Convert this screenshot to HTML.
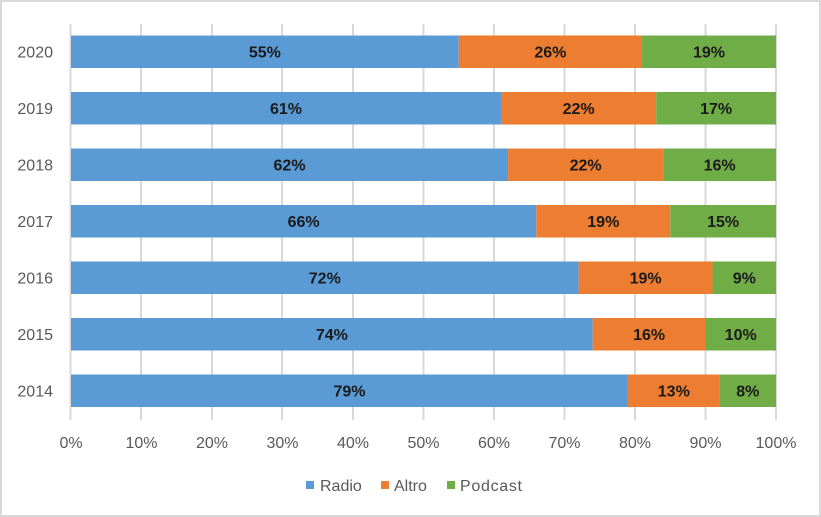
<!DOCTYPE html>
<html><head><meta charset="utf-8"><style>
html,body{margin:0;padding:0;background:#fff}
svg{display:block;font-family:"Liberation Sans",sans-serif}
</style></head><body>
<svg width="821" height="517" viewBox="0 0 821 517">
<rect x="1" y="1" width="819" height="515" fill="#fff" stroke="#d9d9d9" stroke-width="2"/>
<g stroke="#d9d9d9" stroke-width="2">
<line x1="70.5" y1="24" x2="70.5" y2="420"/><line x1="141" y1="24" x2="141" y2="420"/><line x1="212" y1="24" x2="212" y2="420"/><line x1="282" y1="24" x2="282" y2="420"/><line x1="353" y1="24" x2="353" y2="420"/><line x1="423.5" y1="24" x2="423.5" y2="420"/><line x1="494" y1="24" x2="494" y2="420"/><line x1="564.5" y1="24" x2="564.5" y2="420"/><line x1="635" y1="24" x2="635" y2="420"/><line x1="705.5" y1="24" x2="705.5" y2="420"/><line x1="776" y1="24" x2="776" y2="420"/>
</g>
<g>
<rect x="71" y="35.5" width="387.75" height="32.5" fill="#5b9bd5"/><rect x="458.75" y="35.5" width="183.3" height="32.5" fill="#ed7d31"/><rect x="642.05" y="35.5" width="133.95" height="32.5" fill="#70ad47"/>
<rect x="71" y="92" width="430.05" height="32.5" fill="#5b9bd5"/><rect x="501.05" y="92" width="155.1" height="32.5" fill="#ed7d31"/><rect x="656.15" y="92" width="119.85" height="32.5" fill="#70ad47"/>
<rect x="71" y="148.5" width="437.1" height="32.5" fill="#5b9bd5"/><rect x="508.1" y="148.5" width="155.1" height="32.5" fill="#ed7d31"/><rect x="663.2" y="148.5" width="112.8" height="32.5" fill="#70ad47"/>
<rect x="71" y="205" width="465.3" height="32.5" fill="#5b9bd5"/><rect x="536.3" y="205" width="133.95" height="32.5" fill="#ed7d31"/><rect x="670.25" y="205" width="105.75" height="32.5" fill="#70ad47"/>
<rect x="71" y="261.5" width="507.6" height="32.5" fill="#5b9bd5"/><rect x="578.6" y="261.5" width="133.95" height="32.5" fill="#ed7d31"/><rect x="712.55" y="261.5" width="63.45" height="32.5" fill="#70ad47"/>
<rect x="71" y="318" width="521.7" height="32.5" fill="#5b9bd5"/><rect x="592.7" y="318" width="112.8" height="32.5" fill="#ed7d31"/><rect x="705.5" y="318" width="70.5" height="32.5" fill="#70ad47"/>
<rect x="71" y="374.5" width="556.95" height="32.5" fill="#5b9bd5"/><rect x="627.95" y="374.5" width="91.65" height="32.5" fill="#ed7d31"/><rect x="719.6" y="374.5" width="56.4" height="32.5" fill="#70ad47"/>
</g>
<g font-size="16" font-weight="bold" fill="#1a1a1a" text-anchor="middle">
<text x="264.9" y="57.5">55%</text><text x="550.4" y="57.5">26%</text><text x="709" y="57.5">19%</text>
<text x="286" y="114">61%</text><text x="578.6" y="114">22%</text><text x="716.1" y="114">17%</text>
<text x="289.55" y="170.5">62%</text><text x="585.65" y="170.5">22%</text><text x="719.6" y="170.5">16%</text>
<text x="303.65" y="227">66%</text><text x="603.3" y="227">19%</text><text x="723.1" y="227">15%</text>
<text x="324.8" y="283.5">72%</text><text x="645.6" y="283.5">19%</text><text x="744.3" y="283.5">9%</text>
<text x="331.85" y="340">74%</text><text x="649.1" y="340">16%</text><text x="740.75" y="340">10%</text>
<text x="349.5" y="396.5">79%</text><text x="673.8" y="396.5">13%</text><text x="747.8" y="396.5">8%</text>
</g>
<g font-size="16" fill="#595959" text-anchor="end">
<text x="53" y="57.5">2020</text><text x="53" y="114">2019</text><text x="53" y="170.5">2018</text><text x="53" y="227">2017</text><text x="53" y="283.5">2016</text><text x="53" y="340">2015</text><text x="53" y="396.5">2014</text>
</g>
<g font-size="16" fill="#595959" text-anchor="middle">
<text x="71" y="448">0%</text><text x="141.5" y="448">10%</text><text x="212" y="448">20%</text><text x="282.5" y="448">30%</text><text x="353" y="448">40%</text><text x="423.5" y="448">50%</text><text x="494" y="448">60%</text><text x="564.5" y="448">70%</text><text x="635" y="448">80%</text><text x="705.5" y="448">90%</text><text x="776" y="448">100%</text>
</g>
<g font-size="16" fill="#595959">
<rect x="306" y="481" width="8" height="8" fill="#5b9bd5"/><text x="320" y="491">Radio</text>
<rect x="381" y="481" width="8" height="8" fill="#ed7d31"/><text x="394" y="491">Altro</text>
<rect x="447" y="481" width="8" height="8" fill="#70ad47"/><text x="460" y="491" textLength="62">Podcast</text>
</g>
</svg>
</body></html>
